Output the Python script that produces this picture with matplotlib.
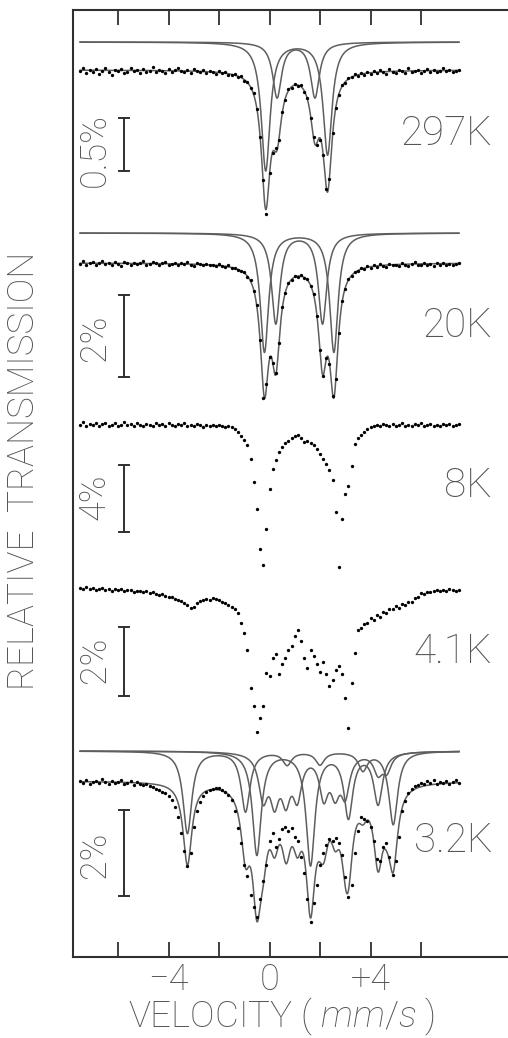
import numpy as np
import matplotlib
matplotlib.use("Agg")
import matplotlib.pyplot as plt
from matplotlib import font_manager as fm

# ------------------------------------------------------------------ data
VEL_MIN, VEL_MAX = -7.5, 7.5            # velocity range of the channels (mm/s)

temperatures = ["297K", "20K", "8K", "4.1K", "3.2K"]
scale_bar_pct = [0.5, 2, 4, 2, 2]
scale_labels = ["0.5%", "2%", "4%", "2%", "2%"]

tick_values = [-6, -4, -2, 0, 2, 4, 6]
tick_label_values = [-4, 0, 4]
tick_labels = ["\u22124", "0", "+4"]

# measured absorption (% below baseline), one value per channel
abs_297K = [
    0.01, -0.02, 0.03, 0.00, 0.02, -0.01, 0.04, 0.01, -0.02, 0.02,
    0.05, 0.00, 0.01, -0.01, 0.03, 0.02, -0.02, 0.01, 0.00, 0.03,
    -0.01, 0.02, 0.01, -0.03, 0.02, 0.00, 0.01, 0.03, -0.01, 0.02,
    0.00, -0.02, 0.01, 0.02, 0.00, 0.03, -0.01, 0.01, 0.02, 0.00,
    0.03, 0.01, 0.02, 0.04, 0.01, 0.03, 0.02, 0.05,
    0.05, 0.04, 0.07, 0.06, 0.10, 0.11, 0.17, 0.22, 0.37, 0.63,
    1.04, 1.36, 0.97, 0.78, 0.74, 0.66, 0.40, 0.28, 0.18, 0.17,
    0.13, 0.15, 0.14, 0.21, 0.26, 0.45, 0.63, 0.71, 0.66, 0.80,
    1.12, 1.03, 0.59, 0.36, 0.24, 0.14, 0.12, 0.08, 0.07, 0.04,
    0.06,
    0.03, 0.05, 0.02, 0.04, 0.01, 0.03, 0.00, 0.02, 0.04, -0.01,
    0.02, 0.03, 0.00, 0.01, 0.03, -0.02, 0.02, 0.01, 0.00, 0.03,
    0.01, -0.01, 0.02, 0.00, 0.02, 0.01, -0.02, 0.01, 0.00, 0.02,
    0.01, 0.00,
]
abs_20K = [
    0.02, -0.05, 0.04, 0.00, -0.03, 0.06, 0.01, -0.04, 0.03, 0.00,
    0.05, -0.02, 0.02, 0.07, -0.03, 0.01, 0.04, -0.01, 0.03, 0.00,
    -0.04, 0.05, 0.02, -0.02, 0.01, 0.06, 0.00, -0.03, 0.04, 0.02,
    -0.01, 0.05, 0.01, 0.03, -0.02, 0.04, 0.07, 0.00, 0.03, 0.05,
    0.02, 0.06, 0.04, 0.08, 0.03, 0.07, 0.09, 0.06,
    0.13, 0.11, 0.17, 0.19, 0.22, 0.33, 0.42, 0.68, 1.02, 1.88,
    3.30, 2.95, 2.30, 2.44, 2.68, 1.95, 1.08, 0.74, 0.48, 0.41,
    0.31, 0.34, 0.29, 0.37, 0.40, 0.57, 0.76, 1.30, 2.12, 2.76,
    2.31, 2.47, 3.25, 2.82, 1.70, 0.93, 0.63, 0.40, 0.32, 0.21,
    0.20, 0.13, 0.14,
    0.08, 0.12, 0.05, 0.09, 0.03, 0.07, 0.10, 0.02, 0.06, 0.04,
    0.08, 0.01, 0.05, 0.07, 0.03, -0.02, 0.06, 0.04, 0.00, 0.05,
    0.03, 0.07, 0.01, 0.04, -0.01, 0.05, 0.02, 0.06, 0.03, 0.01,
]
abs_8K = [
    0.05, -0.10, 0.12, 0.00, 0.08, -0.06, 0.14, 0.02, -0.08, 0.10,
    0.04, -0.04, 0.12, 0.06, -0.10, 0.08, 0.00, 0.14, -0.05, 0.06,
    0.10, -0.02, 0.04, 0.12, -0.08, 0.06, 0.02, 0.10, -0.04, 0.08,
    0.14, 0.00, 0.06, -0.06, 0.10, 0.04, 0.12, 0.02, 0.08, 0.16,
    0.04, 0.10, 0.06, 0.14, 0.08, 0.12, 0.18, 0.10,
    0.18, 0.30, 0.48, 0.72, 0.96, 1.25, 2.09, 3.46, 5.07, 7.46,
    8.42, 6.27, 3.88, 2.69, 2.15, 1.67, 1.37, 1.13, 1.01, 0.84,
    0.72, 0.66, 0.84, 1.07, 1.01, 1.13, 1.25, 1.49, 1.79, 2.09,
    2.39, 2.75, 3.34, 5.25, 8.54, 5.67, 4.18, 3.70, 2.51, 1.19,
    0.84, 0.66, 0.48, 0.30, 0.18,
    0.12, 0.04, 0.14, -0.02, 0.08, 0.10, 0.00, 0.12, 0.06, -0.06,
    0.10, 0.04, 0.14, 0.02, 0.08, -0.04, 0.12, 0.06, 0.00, 0.10,
    0.04, 0.14, -0.02, 0.08, 0.02, 0.10, 0.06, 0.00,
]
abs_4p1K = [
    0.00, 0.03, -0.03, 0.03, 0.00, 0.06, 0.03, 0.00, 0.06, 0.03,
    0.09, 0.03, 0.06, 0.03, 0.09, 0.06, 0.06, 0.12, 0.09, 0.09,
    0.12, 0.09, 0.14, 0.12, 0.17, 0.20, 0.17, 0.23, 0.26, 0.26,
    0.32, 0.35, 0.38, 0.43, 0.49, 0.58, 0.55, 0.43, 0.38, 0.35,
    0.32, 0.35, 0.29, 0.32, 0.35, 0.41, 0.43, 0.49, 0.55, 0.61,
    0.72, 1.01, 1.30, 1.80, 2.90, 3.42, 4.17, 3.77, 3.42, 2.46,
    2.55, 2.03, 1.91, 2.49, 2.20, 2.03, 1.80, 1.68, 1.39, 1.22,
    1.54, 2.03, 2.32, 1.80, 1.97, 2.20, 2.43, 2.14, 2.49, 2.84,
    2.67, 2.38, 2.26, 2.49, 3.19, 4.06, 2.75, 1.88, 1.22, 1.16,
    1.04, 1.01, 0.87, 0.93, 0.78, 0.84, 0.70, 0.72, 0.61, 0.62,
    0.52, 0.58, 0.46, 0.50, 0.40, 0.41, 0.29, 0.26, 0.14, 0.17,
    0.12, 0.12, 0.09, 0.06, 0.09, 0.06, 0.09, 0.03, 0.06, 0.09,
    0.06,
]
abs_3p2K = [
    0.00, 0.05, -0.02, 0.07, 0.02, 0.00, 0.05, -0.05, 0.02, 0.07,
    0.00, 0.05, 0.02, -0.02, 0.07, 0.05, 0.00, 0.09, 0.02, 0.07,
    0.09, 0.07, 0.12, 0.14, 0.19, 0.21, 0.26, 0.28, 0.35, 0.44,
    0.60, 0.84, 1.21, 1.63, 1.98, 1.67, 1.07, 0.70, 0.49, 0.35,
    0.26, 0.21, 0.19, 0.16, 0.16, 0.21, 0.26, 0.33, 0.44, 0.70,
    1.09, 1.44, 1.95, 2.21, 2.65, 2.93, 3.16, 2.74, 2.33, 1.95,
    1.40, 1.21, 1.53, 1.35, 1.12, 1.07, 1.16, 1.09, 1.30, 1.40,
    1.77, 2.14, 2.74, 3.28, 2.84, 2.42, 1.95, 1.67, 1.49, 1.35,
    1.40, 1.33, 1.44, 1.72, 2.23, 2.70, 2.42, 1.67, 1.16, 0.84,
    0.88, 0.93, 1.07, 1.40, 1.81, 1.86, 1.53, 1.44, 1.77, 2.19,
    1.86, 1.30, 0.70, 0.47, 0.28, 0.19, 0.12, 0.09, 0.05, 0.07,
    0.00, 0.05, -0.02, 0.07, 0.02, 0.05, 0.00, 0.07, 0.02, -0.02,
    0.05,
]
spectra = [abs_297K, abs_20K, abs_8K, abs_4p1K, abs_3p2K]

# fitted sub-spectra: Lorentzian line positions (mm/s), depths (%), half widths (mm/s)
fit_297K_A_pos, fit_297K_A_depth = [-0.15, 2.30], [1.21, 1.06]
fit_297K_B_pos, fit_297K_B_depth = [0.30, 1.80], [0.52, 0.52]
fit_297K_hwhm = 0.21
fit_20K_A_pos, fit_20K_A_depth = [-0.20, 2.55], [2.90, 2.90]
fit_20K_B_pos, fit_20K_B_depth = [0.25, 2.10], [2.20, 2.20]
fit_20K_hwhm = 0.20
fit_3p2K_A_pos = [-3.25, -0.95, 0.70, 2.00, 3.70, 4.90]
fit_3p2K_A_depth = [1.91, 1.40, 0.30, 0.30, 0.42, 1.70]
fit_3p2K_B_pos = [-0.50, 1.625, 3.125, 4.30]
fit_3p2K_B_depth = [2.40, 2.62, 1.50, 1.20]
fit_3p2K_C_pos = [-0.25, 0.20, 0.65, 1.10, 2.15, 2.60, 3.00, 4.30, 4.65]
fit_3p2K_C_depth = [1.00, 1.00, 0.95, 0.95, 0.95, 0.80, 0.90, 0.45, 0.40]
fit_3p2K_hwhm = 0.21

fits = {
    0: ([(fit_297K_A_pos, fit_297K_A_depth), (fit_297K_B_pos, fit_297K_B_depth)], fit_297K_hwhm),
    1: ([(fit_20K_A_pos, fit_20K_A_depth), (fit_20K_B_pos, fit_20K_B_depth)], fit_20K_hwhm),
    4: ([(fit_3p2K_A_pos, fit_3p2K_A_depth), (fit_3p2K_B_pos, fit_3p2K_B_depth),
         (fit_3p2K_C_pos, fit_3p2K_C_depth)], fit_3p2K_hwhm),
}

# ------------------------------------------------------------------ layout (pixels)
FIG_W, FIG_H = 508, 1038
AX_LEFT_PX, AX_TOP_PX, AX_BOT_PX = 73, 10, 957
ZERO_PX, PX_PER_MMS = 269.5, 25.25
panel_base_data = [70, 263, 424, 588, 781]
panel_base_fit = [42, 233, None, None, 751]
panel_px_per_pct = [106, 41, 16.75, 34.5, 43]
bar_x_px, bar_cap_px = 124, 5
bar_top_px = [118, 295, 465, 627, 810]
bar_label_x_px = 95
bar_label_y_px = [150, 338, 497, 660, 855]
temp_right_px = 492
temp_baseline_px = [145, 337, 497, 663, 852]
ticklabel_baseline_px = 990
xlabel_center_px, xlabel_baseline_px = 281, 1027
ylabel_center_px = (24, 471)

TEXT_COLOR = "#555555"
LINE_COLOR = "#5e5e5e"
AXIS_COLOR = "#303030"


def px_to_v(px):
    return (px - ZERO_PX) / PX_PER_MMS


def lorentz(v, pos, depth, hwhm):
    v = np.asarray(v, dtype=float)
    out = np.zeros_like(v)
    for p, d in zip(pos, depth):
        out += d / (1.0 + ((v - p) / hwhm) ** 2)
    return out


def pick_font():
    prefs = ["Roboto", "Lato", "Open Sans", "Inter", "Noto Sans"]
    weights = {}
    for f in fm.fontManager.ttflist:
        w = f.weight
        if isinstance(w, str):
            w = fm.weight_dict.get(w, 400)
        weights.setdefault(f.name, []).append(w)
    for p in prefs:
        if p in weights and min(weights[p]) <= 300:
            return p, "light"
    return "DejaVu Sans", "normal"


fam, wt = pick_font()
plt.rcParams["font.family"] = [fam, "DejaVu Sans"]
plt.rcParams["font.weight"] = wt
plt.rcParams["mathtext.fontset"] = "custom"
plt.rcParams["mathtext.rm"] = f"{fam}:{wt}"
plt.rcParams["mathtext.it"] = f"{fam}:italic:{wt}"

fig = plt.figure(figsize=(FIG_W / 100, FIG_H / 100), dpi=100)
ax = fig.add_axes([AX_LEFT_PX / FIG_W, (FIG_H - AX_BOT_PX) / FIG_H,
                   (FIG_W - AX_LEFT_PX) / FIG_W, (AX_BOT_PX - AX_TOP_PX) / FIG_H])
ax.set_xlim(px_to_v(AX_LEFT_PX), px_to_v(FIG_W))
ax.set_ylim(AX_BOT_PX, AX_TOP_PX)

for s in ("left", "top", "bottom"):
    ax.spines[s].set_linewidth(1.5)
    ax.spines[s].set_color(AXIS_COLOR)
ax.spines["right"].set_visible(False)
ax.set_xticks(tick_values)
ax.set_yticks([])
ax.tick_params(axis="x", direction="in", top=True, bottom=True, length=11,
               width=1.3, color=AXIS_COLOR, labelbottom=False, labeltop=False)

v_fine = np.linspace(VEL_MIN, VEL_MAX, 1500)

for k, spec in enumerate(spectra):
    spec = np.asarray(spec, dtype=float)
    v = np.linspace(VEL_MIN, VEL_MAX, len(spec))
    base, sc = panel_base_data[k], panel_px_per_pct[k]
    if k in fits:
        comps, hw = fits[k]
        total = np.zeros_like(v_fine)
        for pos, dep in comps:
            c = lorentz(v_fine, pos, dep, hw)
            total += c
            ax.plot(v_fine, panel_base_fit[k] + c * sc, color=LINE_COLOR, lw=1.1, zorder=2)
        ax.plot(v_fine, base + total * sc, color=LINE_COLOR, lw=1.1, zorder=2)
    ax.plot(v, base + spec * sc, "o", ms=2.4, mew=0, color="black", zorder=3)

    # scale bar
    bx = px_to_v(bar_x_px)
    cap = bar_cap_px / PX_PER_MMS
    top = bar_top_px[k]
    bot = top + scale_bar_pct[k] * sc
    ax.plot([bx, bx], [top, bot], color=AXIS_COLOR, lw=1.4, zorder=2)
    ax.plot([bx - cap, bx + cap], [top, top], color=AXIS_COLOR, lw=1.4, zorder=2)
    ax.plot([bx - cap, bx + cap], [bot, bot], color=AXIS_COLOR, lw=1.4, zorder=2)

texts_temp, texts_bar, texts_tick = [], [], []
for k, name in enumerate(temperatures):
    texts_temp.append(ax.text(px_to_v(temp_right_px), temp_baseline_px[k], name,
                              ha="right", va="baseline", color=TEXT_COLOR, fontsize=26))
    texts_bar.append(ax.text(px_to_v(bar_label_x_px), bar_label_y_px[k], scale_labels[k],
                             rotation=90, ha="center", va="center", color=TEXT_COLOR,
                             fontsize=22))
for val, lab in zip(tick_label_values, tick_labels):
    texts_tick.append(ax.text(val, ticklabel_baseline_px, lab, ha="center", va="baseline",
                              color=TEXT_COLOR, fontsize=26, clip_on=False))
xlab = ax.text(px_to_v(xlabel_center_px), xlabel_baseline_px, r"VELOCITY ( $\it{mm/s}$ )",
               ha="center", va="baseline", color=TEXT_COLOR, fontsize=28, clip_on=False)
ylab = ax.text(px_to_v(ylabel_center_px[0]), ylabel_center_px[1], "RELATIVE  TRANSMISSION",
               rotation=90, ha="center", va="center", color=TEXT_COLOR, fontsize=24,
               clip_on=False)

# size texts to the measured extents of the reference
renderer = fig.canvas.get_renderer()


def fitted_size(t, target, use_height=False):
    bb = t.get_window_extent(renderer)
    cur = bb.height if use_height else bb.width
    return t.get_fontsize() * target / cur


fs_temp = fitted_size(texts_temp[0], 92)
for t in texts_temp:
    t.set_fontsize(fs_temp)
fs_bar = fitted_size(texts_bar[0], 74, use_height=True)
for t in texts_bar:
    t.set_fontsize(fs_bar)
fs_tick = fitted_size(texts_tick[2], 40)
for t in texts_tick:
    t.set_fontsize(fs_tick)
xlab.set_fontsize(fitted_size(xlab, 330))
ylab.set_fontsize(fitted_size(ylab, 438, use_height=True))

# keep the axis label clear of the tick labels and inside the canvas
fig.canvas.draw()
tick_bottom = max(t.get_window_extent(renderer).y0 for t in texts_tick)
tick_bottom = min(t.get_window_extent(renderer).y0 for t in texts_tick)
xb = xlab.get_window_extent(renderer)
if xb.y1 > tick_bottom - 1 or xb.y0 < 1:
    xlab.set_fontsize(xlab.get_fontsize() * 0.93)

fig.savefig("out.png", dpi=100, facecolor="white")
